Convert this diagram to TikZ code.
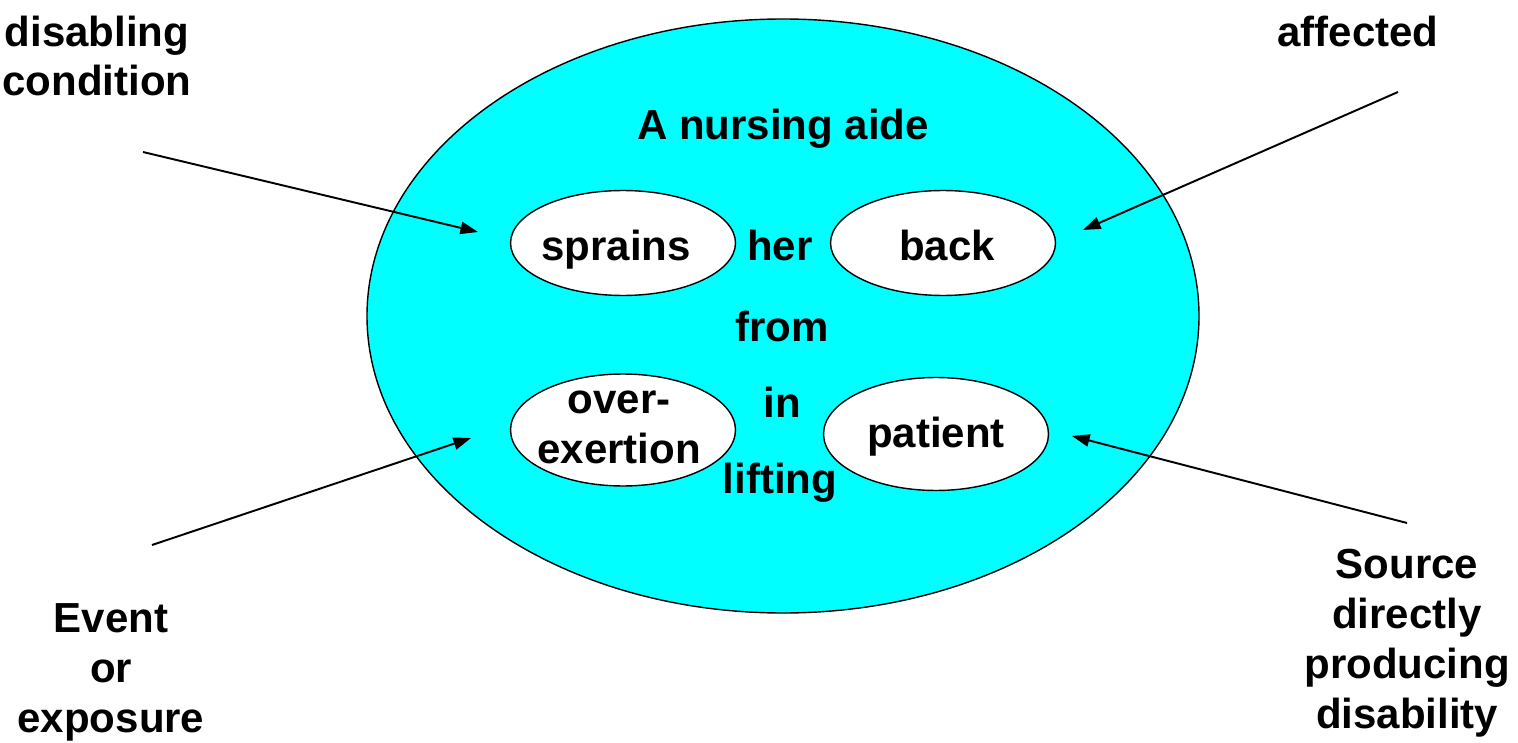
\documentclass[tikz,border=0pt]{standalone}
\usepackage{fontspec}
\setmainfont{Liberation Sans}
\usepackage{tikz}
\usetikzlibrary{arrows.meta, shapes.geometric}

\definecolor{aqua}{RGB}{0,255,255}

\tikzset{
  word/.style={font=\bfseries\fontsize{23.9}{28.45}\selectfont, align=center,
    inner sep=0pt, anchor=base},
  bubble/.style={ellipse, draw=black, line width=0.8pt, fill=white,
    minimum width=4.5cm, minimum height=2.1cm, inner sep=0pt},
  pointer/.style={line width=1.1pt, -{Triangle[length=10pt, width=7pt]}}
}

\begin{document}
\begin{tikzpicture}[x=0.02cm, y=-0.02cm]

\useasboundingbox (0,0) rectangle (1518,743);

% Big cyan ellipse
\draw[fill=aqua, line width=0.8pt] (783,316) ellipse [x radius=416, y radius=297];

% Small white ellipses
\node[bubble] (sprains) at (623,243) {};
\node[bubble] (back) at (943,243) {};
\node[bubble, minimum height=2.24cm] (overex) at (623,430) {};
\node[bubble, minimum height=2.26cm] (patient) at (936,434) {};

% Words inside (placed by baseline of the last line)
\node[word] (aide) at (783,140) {A nursing aide};
\node[word] (sprainsText) at (616,260) {sprains};
\node[word] (backText) at (947,260) {back};
\node[word] (patientText) at (936,447) {patient};
\node[word] (overexText) at (619,463) {over-\\exertion};
\node[word] (her) at (780,260) {her};
\node[word] (from) at (782,341) {from};
\node[word] (in) at (782,417) {in};
\node[word] (lifting) at (780,493) {lifting};

% Outer labels
\node[word] (nature) at (97,96) {disabling\\condition};
\node[word] (part) at (1358,47) {affected};
\node[word] (event) at (111,732) {Event\\or\\exposure};
\node[word] (source) at (1407,728) {Source\\directly\\producing\\disability};

% Arrow ends
\coordinate (natureTail) at (143,152);
\coordinate (natureTip) at (478,232);
\coordinate (partTail) at (1398,92);
\coordinate (partTip) at (1083,230);
\coordinate (eventTail) at (152,545);
\coordinate (eventTip) at (471,438);
\coordinate (sourceTail) at (1407,523);
\coordinate (sourceTip) at (1072,436);

\draw[pointer] (natureTail) -- (natureTip);
\draw[pointer] (partTail) -- (partTip);
\draw[pointer] (eventTail) -- (eventTip);
\draw[pointer] (sourceTail) -- (sourceTip);

\end{tikzpicture}
\end{document}
